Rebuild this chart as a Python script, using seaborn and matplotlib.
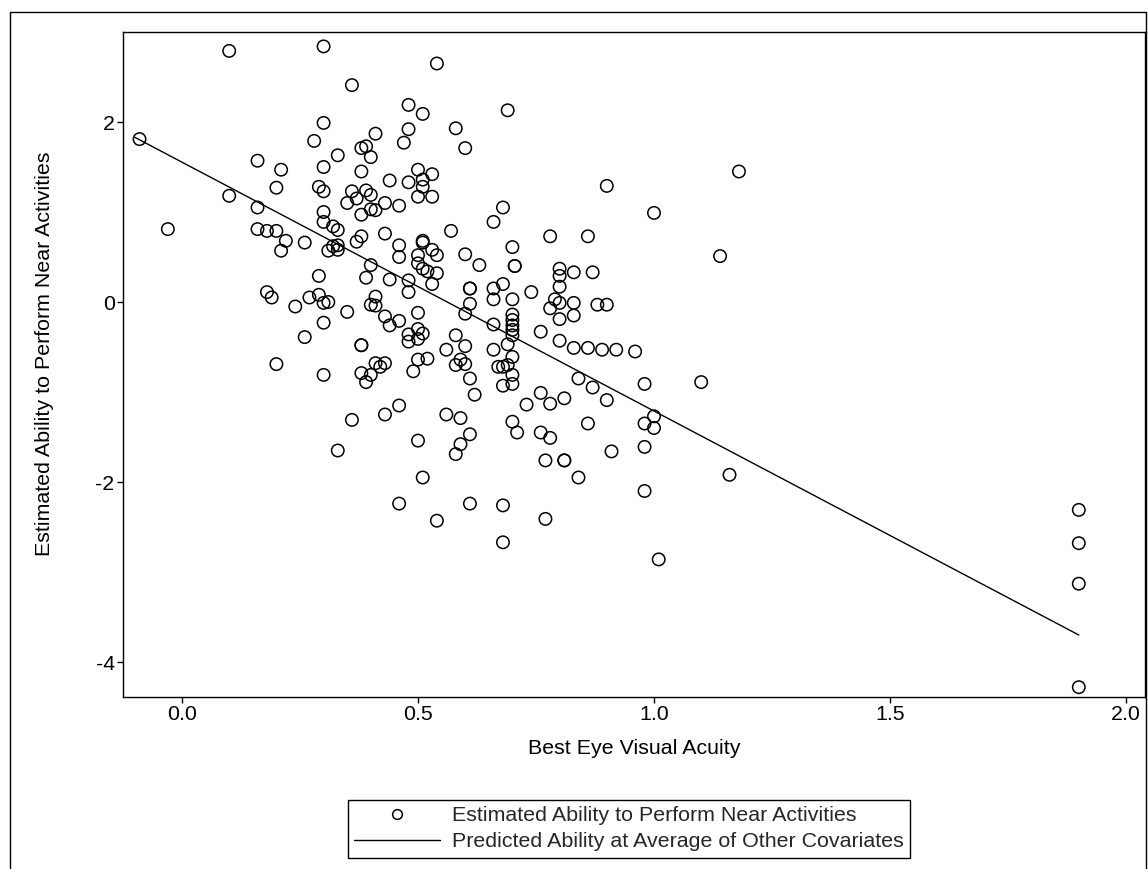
import matplotlib
matplotlib.use("Agg")
import matplotlib.pyplot as plt
from matplotlib.lines import Line2D
from matplotlib.patches import Rectangle
import seaborn as sns
import pandas as pd

# --- dados ---
acuity = [
    0.10, 0.30, 0.30, -0.09, 0.28, 0.16, 0.21, 0.30, 0.20, 0.29, 0.30, 0.10, 0.16, 0.30, 0.30,
    -0.03, 0.16, 0.18, 0.20, 0.22, 0.26, 0.21, 0.31, 0.29, 0.18, 0.19, 0.24, 0.27, 0.29, 0.30,
    0.31, 0.30, 0.26, 0.20, 0.30,
    0.36, 0.54, 0.48, 0.51, 0.69, 0.41, 0.48, 0.58, 0.47, 0.60, 0.38, 0.39, 0.40, 0.33, 0.38,
    0.50, 0.53, 0.44, 0.48, 0.51, 0.51, 0.50, 0.53, 0.36, 0.39, 0.40, 0.37, 0.35, 0.43, 0.46,
    0.40, 0.41, 0.38, 0.68, 0.66, 0.32, 0.33, 0.38, 0.37, 0.43, 0.57, 0.46, 0.51, 0.51, 0.70,
    0.33,
    0.32, 0.33, 0.46, 0.50, 0.53, 0.54, 0.50, 0.51, 0.52, 0.54, 0.60, 0.63, 0.705, 0.705, 0.40,
    0.39, 0.44, 0.48, 0.53, 0.48, 0.61, 0.61, 0.66, 0.68, 0.66, 0.70, 0.41, 0.40, 0.41, 0.35,
    0.61, 0.60, 0.50, 0.43, 0.46, 0.44, 0.66, 0.70, 0.70, 0.70, 0.70, 0.70, 0.50, 0.48, 0.50,
    0.51, 0.48, 0.58, 0.60, 0.56, 0.66, 0.69, 0.70, 0.38, 0.38, 0.50, 0.52, 0.49, 0.58, 0.59,
    0.60, 0.41, 0.42, 0.43, 0.40, 0.38, 0.39, 0.61, 0.67, 0.68, 0.69, 0.70, 0.70, 0.68, 0.62,
    0.46, 0.43, 0.36, 0.56, 0.59, 0.70, 0.71, 0.61, 0.59, 0.58, 0.50, 0.33, 0.51,
    0.46, 0.61, 0.54, 0.68, 0.68,
    0.90, 1.00, 0.78, 0.86,
    1.14, 0.80, 0.80, 0.83, 0.87, 0.80, 0.74, 0.79, 0.80, 0.83, 0.78, 0.88, 0.90, 0.83, 0.80,
    0.76, 0.80, 0.83, 0.86, 0.89, 0.92, 0.96, 0.84, 0.87, 0.98, 1.10, 0.76, 0.81, 0.78, 0.73,
    0.90, 1.00, 0.98, 1.00, 0.86, 0.76, 0.78, 0.91, 0.98, 0.77, 0.81, 0.81, 0.84,
    0.98, 0.77, 1.01,
    1.18, 1.16,
    1.90, 1.90, 1.90, 1.90,
]
ability = [
    2.79, 2.84, 1.99, 1.81, 1.79, 1.57, 1.47, 1.50, 1.27, 1.28, 1.23, 1.18, 1.05, 1.00, 0.89,
    0.81, 0.81, 0.79, 0.79, 0.68, 0.66, 0.57, 0.57, 0.29, 0.11, 0.05, -0.05, 0.05, 0.08, -0.01,
    0.00, -0.23, -0.39, -0.69, -0.81,
    2.41, 2.65, 2.19, 2.09, 2.13, 1.87, 1.92, 1.93, 1.77, 1.71, 1.71, 1.73, 1.61, 1.63, 1.45,
    1.47, 1.42, 1.35, 1.33, 1.36, 1.28, 1.17, 1.17, 1.23, 1.24, 1.19, 1.15, 1.10, 1.10, 1.07,
    1.03, 1.02, 0.97, 1.05, 0.89, 0.84, 0.80, 0.73, 0.67, 0.76, 0.79, 0.63, 0.68, 0.66, 0.61,
    0.63,
    0.62, 0.58, 0.50, 0.52, 0.58, 0.52, 0.43, 0.37, 0.34, 0.32, 0.53, 0.41, 0.40, 0.40, 0.41,
    0.27, 0.25, 0.24, 0.20, 0.11, 0.15, 0.15, 0.15, 0.20, 0.03, 0.03, 0.06, -0.03, -0.04, -0.11,
    -0.02, -0.13, -0.12, -0.16, -0.21, -0.26, -0.25, -0.14, -0.20, -0.26, -0.31, -0.37, -0.30, -0.36, -0.41,
    -0.35, -0.44, -0.37, -0.49, -0.53, -0.53, -0.47, -0.61, -0.48, -0.48, -0.64, -0.63, -0.77, -0.70, -0.64,
    -0.69, -0.68, -0.72, -0.68, -0.81, -0.79, -0.89, -0.85, -0.72, -0.72, -0.70, -0.81, -0.91, -0.93, -1.03,
    -1.15, -1.25, -1.31, -1.25, -1.29, -1.33, -1.45, -1.47, -1.58, -1.69, -1.54, -1.65, -1.95,
    -2.24, -2.24, -2.43, -2.26, -2.67,
    1.29, 0.99, 0.73, 0.73,
    0.51, 0.37, 0.29, 0.33, 0.33, 0.17, 0.11, 0.03, -0.01, -0.01, -0.07, -0.03, -0.03, -0.15, -0.19,
    -0.33, -0.43, -0.51, -0.51, -0.53, -0.53, -0.55, -0.85, -0.95, -0.91, -0.89, -1.01, -1.07, -1.13, -1.14,
    -1.09, -1.27, -1.35, -1.40, -1.35, -1.45, -1.51, -1.66, -1.61, -1.76, -1.76, -1.76, -1.95,
    -2.10, -2.41, -2.86,
    1.45, -1.92,
    -2.31, -2.68, -3.13, -4.28,
]

# reta de predição (extremos)
pred_x = [-0.10, 1.90]
pred_y = [1.83, -3.70]

x_ticks = [0.0, 0.5, 1.0, 1.5, 2.0]
x_tick_labels = ["0.0", "0.5", "1.0", "1.5", "2.0"]
y_ticks = [2, 0, -2, -4]
y_tick_labels = ["2", "0", "-2", "-4"]

LBL_PTS = "Estimated Ability to Perform Near Activities"
LBL_LINE = "Predicted Ability at Average of Other Covariates"

df = pd.DataFrame({"acuity": acuity, "ability": ability})
df_pred = pd.DataFrame({"acuity": pred_x, "ability": pred_y})

sns.set_theme(style="ticks")
plt.rcParams["font.family"] = ["Liberation Sans", "DejaVu Sans"]
FS = 15.4

W, H = 1148, 869
AX_L, AX_R, AX_T, AX_B = 123, 1145, 32, 697
fig = plt.figure(figsize=(W / 100, H / 100), dpi=100)
ax = fig.add_axes([AX_L / W, 1 - AX_B / H, (AX_R - AX_L) / W, (AX_B - AX_T) / H])

sns.scatterplot(data=df, x="acuity", y="ability", ax=ax, marker="o", s=80,
                facecolors="none", edgecolor="black", linewidth=1.1, legend=False)
sns.lineplot(data=df_pred, x="acuity", y="ability", ax=ax, color="black",
             linewidth=1.0, legend=False)

# escala: 0 -> px 182, 472 px por unidade em x; 0 -> px 302, 90 px por unidade em y
ax.set_xlim((AX_L - 182) / 472, (AX_R - 182) / 472)
ax.set_ylim((302 - AX_B) / 90, (302 - AX_T) / 90)
ax.set_xticks(x_ticks, x_tick_labels)
ax.set_yticks(y_ticks, y_tick_labels)
ax.tick_params(direction="out", length=4, width=1.0, color="black",
               labelsize=FS, labelcolor="black", pad=2)
for sp in ax.spines.values():
    sp.set_visible(True)
    sp.set_color("black")
    sp.set_linewidth(1.0)

ax.set_xlabel("Best Eye Visual Acuity", fontsize=FS, color="black")
ax.set_ylabel(LBL_PTS, fontsize=FS, color="black")
ax.xaxis.set_label_coords(0.5, -(748 - AX_B) / (AX_B - AX_T))
ax.yaxis.set_label_coords(-(AX_L - 45) / (AX_R - AX_L), (AX_B - 354) / (AX_B - AX_T))
ax.xaxis.label.set_va("center")
ax.yaxis.label.set_va("center")

handles = [
    Line2D([], [], marker="o", linestyle="none", markerfacecolor="none",
           markeredgecolor="black", markersize=7, markeredgewidth=1.1),
    Line2D([], [], color="black", linewidth=1.0),
]
leg = fig.legend(handles, [LBL_PTS, LBL_LINE], loc="upper left",
                 bbox_to_anchor=(348 / W, 1 - 800 / H), bbox_transform=fig.transFigure,
                 fontsize=FS, frameon=True, fancybox=False, framealpha=1,
                 edgecolor="black", borderpad=0.3, handlelength=4.0,
                 handletextpad=0.56, labelspacing=0.32, borderaxespad=0)
leg.get_frame().set_linewidth(1.0)

# moldura externa da figura (base fora da imagem)
fig.patches.append(Rectangle((10 / W, -0.05), (1146 - 10) / W, 1.05 - 12 / H,
                             transform=fig.transFigure, fill=False,
                             edgecolor="black", linewidth=1.0))

fig.savefig("out.png", dpi=100, facecolor="white")
